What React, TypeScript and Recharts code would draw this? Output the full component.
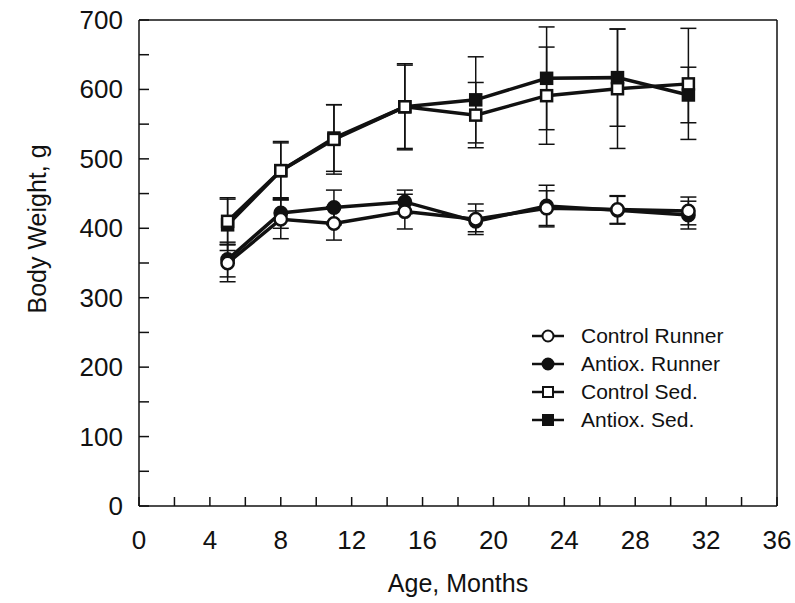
import { LineChart, Line, XAxis, YAxis, ErrorBar, ReferenceLine } from 'recharts';

const ages = [5, 8, 11, 15, 19, 23, 27, 31];
const controlRunner = [350, 413, 407, 424, 413, 429, 427, 425];
const controlRunnerErr = [27, 28, 24, 25, 22, 25, 20, 20];
const antioxRunner = [355, 422, 430, 438, 410, 432, 426, 419];
const antioxRunnerErr = [25, 22, 25, 17, 15, 30, 20, 20];
const controlSed = [410, 483, 528, 575, 563, 591, 601, 608];
const controlSedErr = [34, 42, 50, 62, 47, 70, 86, 80];
const antioxSed = [405, 483, 530, 575, 585, 616, 617, 592];
const antioxSedErr = [37, 40, 48, 60, 62, 74, 70, 40];

const xTicks = [0, 2, 4, 6, 8, 10, 12, 14, 16, 18, 20, 22, 24, 26, 28, 30, 32, 34, 36];
const yTicks = [0, 50, 100, 150, 200, 250, 300, 350, 400, 450, 500, 550, 600, 650, 700];

const seriesNames = ['Control Runner', 'Antiox. Runner', 'Control Sed.', 'Antiox. Sed.'];

const data = ages.map((age, i) => ({
  age,
  cr: controlRunner[i],
  crErr: controlRunnerErr[i],
  ar: antioxRunner[i],
  arErr: antioxRunnerErr[i],
  cs: controlSed[i],
  csErr: controlSedErr[i],
  as: antioxSed[i],
  asErr: antioxSedErr[i],
}));

const FONT = '"Liberation Sans", Arial, Helvetica, sans-serif';
const INK = '#111';

const XTick = (props: any) => {
  const { x, y, payload } = props;
  return (
    <g>
      <line x1={x} x2={x} y1={y} y2={y - 9} stroke={INK} strokeWidth={1.5} />
      {payload.value % 4 === 0 && (
        <text x={x} y={y + 43} textAnchor="middle" fontSize={26} fontFamily={FONT} fill={INK}>
          {payload.value}
        </text>
      )}
    </g>
  );
};

const YTick = (props: any) => {
  const { x, y, payload } = props;
  return (
    <g>
      <line x1={x} x2={x + 10} y1={y} y2={y} stroke={INK} strokeWidth={1.5} />
      {payload.value % 100 === 0 && (
        <text x={x - 16} y={y + 9} textAnchor="end" fontSize={26} fontFamily={FONT} fill={INK}>
          {payload.value}
        </text>
      )}
    </g>
  );
};

const makeDot = (shape: 'circle' | 'square', filled: boolean) => (props: any) => {
  const { cx, cy, index } = props;
  const fill = filled ? INK : '#fff';
  if (shape === 'circle') {
    return <circle key={index} cx={cx} cy={cy} r={6.2} fill={fill} stroke={INK} strokeWidth={2.5} />;
  }
  return <rect key={index} x={cx - 5.5} y={cy - 5.5} width={11} height={11} fill={fill} stroke={INK} strokeWidth={2.5} />;
};

const legendShapes: Array<['circle' | 'square', boolean]> = [
  ['circle', false],
  ['circle', true],
  ['square', false],
  ['square', true],
];

// legend sits inside the plot, lower right
const ChartLegend = () => (
  <div style={{ position: 'absolute', left: 531, top: 322, fontFamily: FONT, fontSize: 21, color: INK }}>
    {seriesNames.map((name, i) => {
      const [shape, filled] = legendShapes[i];
      const fill = filled ? INK : '#fff';
      return (
        <div key={name} style={{ display: 'flex', alignItems: 'center', height: 28 }}>
          <svg width={34} height={20} style={{ marginRight: 16 }}>
            <line x1={1} x2={33} y1={10} y2={10} stroke={INK} strokeWidth={2.5} />
            {shape === 'circle' ? (
              <circle cx={17} cy={10} r={5.5} fill={fill} stroke={INK} strokeWidth={2} />
            ) : (
              <rect x={12} y={5} width={10} height={10} fill={fill} stroke={INK} strokeWidth={2} />
            )}
          </svg>
          <span>{name}</span>
        </div>
      );
    })}
  </div>
);

export default function App() {
  return (
    <div style={{ position: 'absolute', left: 0, top: 0, width: 795, height: 603, background: '#fff' }}>
      <LineChart width={795} height={603} data={data} margin={{ top: 20, right: 18, left: 0, bottom: 37 }}>
        <XAxis
          type="number"
          dataKey="age"
          domain={[0, 36]}
          ticks={xTicks}
          interval={0}
          height={60}
          tickSize={0}
          tickMargin={0}
          tickLine={false}
          axisLine={{ stroke: INK, strokeWidth: 1.5 }}
          tick={<XTick />}
        />
        <YAxis
          type="number"
          domain={[0, 700]}
          ticks={yTicks}
          interval={0}
          width={139}
          tickSize={0}
          tickMargin={0}
          tickLine={false}
          axisLine={{ stroke: INK, strokeWidth: 1.5 }}
          tick={<YTick />}
        />
        <ReferenceLine y={700} stroke={INK} strokeWidth={1.5} ifOverflow="visible" />
        <ReferenceLine x={36} stroke={INK} strokeWidth={1.5} ifOverflow="visible" />
        <Line dataKey="ar" name={seriesNames[1]} stroke={INK} strokeWidth={3.5} isAnimationActive={false} dot={makeDot('circle', true)}>
          <ErrorBar dataKey="arErr" width={8} stroke={INK} strokeWidth={1.5} direction="y" />
        </Line>
        <Line dataKey="cr" name={seriesNames[0]} stroke={INK} strokeWidth={3.5} isAnimationActive={false} dot={makeDot('circle', false)}>
          <ErrorBar dataKey="crErr" width={8} stroke={INK} strokeWidth={1.5} direction="y" />
        </Line>
        <Line dataKey="as" name={seriesNames[3]} stroke={INK} strokeWidth={3.5} isAnimationActive={false} dot={makeDot('square', true)}>
          <ErrorBar dataKey="asErr" width={8} stroke={INK} strokeWidth={1.5} direction="y" />
        </Line>
        <Line dataKey="cs" name={seriesNames[2]} stroke={INK} strokeWidth={3.5} isAnimationActive={false} dot={makeDot('square', false)}>
          <ErrorBar dataKey="csErr" width={8} stroke={INK} strokeWidth={1.5} direction="y" />
        </Line>
        <text x={37} y={229} transform="rotate(-90 37 229)" textAnchor="middle" dominantBaseline="central" fontSize={25} fontFamily={FONT} fill={INK}>
          Body Weight, g
        </text>
        <text x={458} y={592} textAnchor="middle" fontSize={25} fontFamily={FONT} fill={INK}>
          Age, Months
        </text>
      </LineChart>
      <ChartLegend />
    </div>
  );
}
